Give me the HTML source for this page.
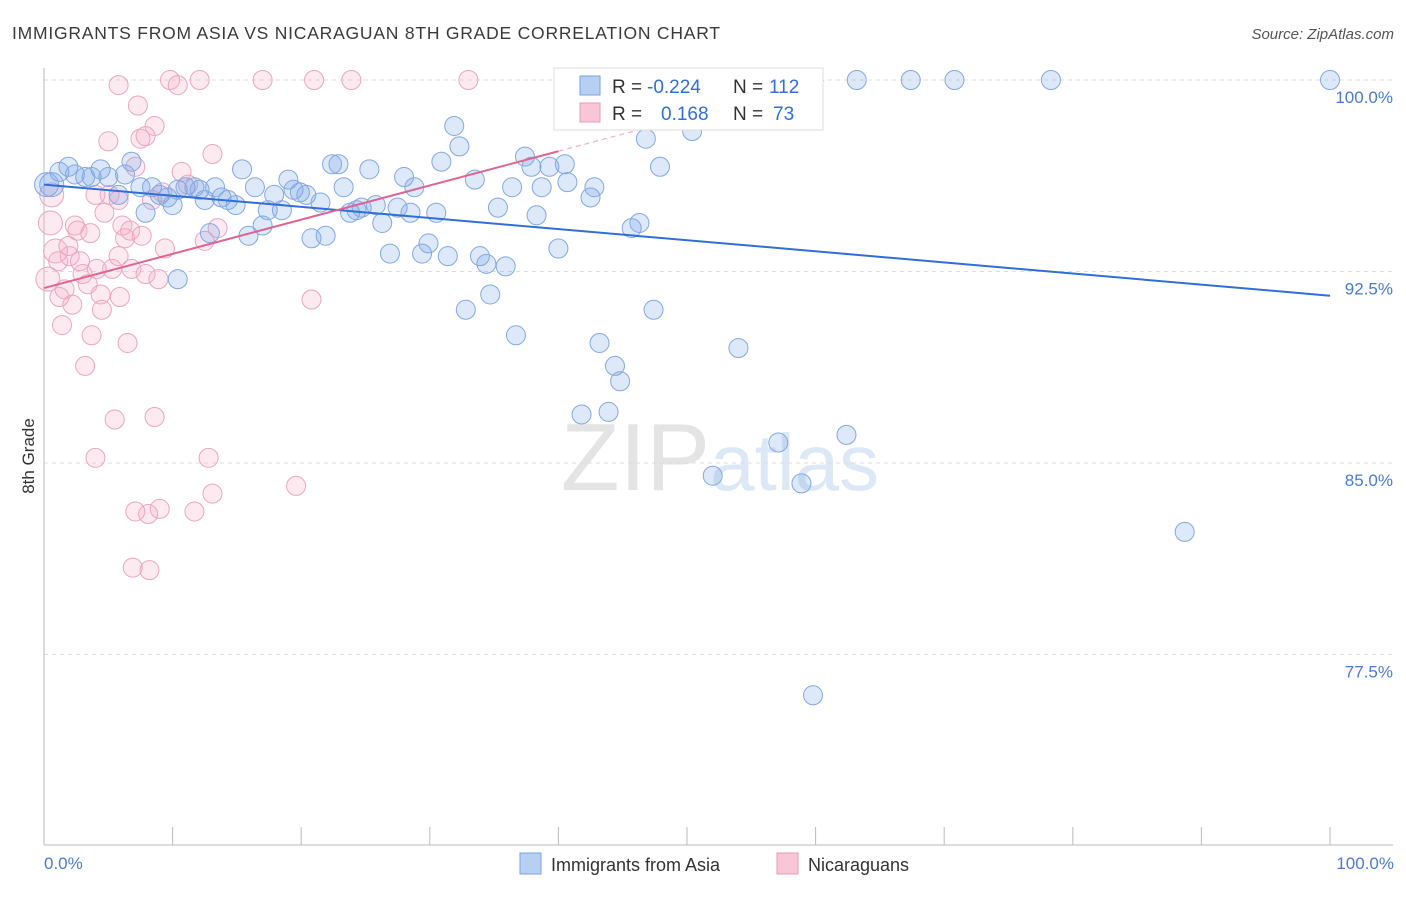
<!DOCTYPE html>
<html><head><meta charset="utf-8"><style>
body{margin:0;background:#fff;font-family:"Liberation Sans",sans-serif}
svg text{font-family:"Liberation Sans",sans-serif}
</style></head><body>
<svg id="chart" width="1406" height="892" xmlns="http://www.w3.org/2000/svg">
<text x="12" y="39" font-size="17.5" fill="#3a3a3a" textLength="708" lengthAdjust="spacing">IMMIGRANTS FROM ASIA VS NICARAGUAN 8TH GRADE CORRELATION CHART</text>
<text x="1394" y="39" font-size="15" fill="#555" text-anchor="end" font-style="italic">Source: ZipAtlas.com</text>
<text x="720" y="490" font-size="96" text-anchor="middle" fill="#e4e4e4" font-family="Liberation Serif">ZIP<tspan fill="#dde8f6" font-family="Liberation Sans" font-size="80">atlas</tspan></text>
<g id="grid"></g><g id="axes"></g><g id="pink"></g><g id="blue"></g><g id="lines"></g>
<text transform="translate(34,456) rotate(-90)" font-size="17" fill="#333" text-anchor="middle">8th Grade</text>
<text x="44" y="869" font-size="17" fill="#4a7bd0">0.0%</text>
<text x="1394" y="869" font-size="17" fill="#4a7bd0" text-anchor="end">100.0%</text>
<g>
<rect x="554" y="68" width="269" height="62" fill="#fff" stroke="#ddd"/>
<rect x="580" y="76" width="20" height="19" fill="#b7d0f2" stroke="#7aa3e0"/>
<rect x="580" y="103" width="20" height="19" fill="#f8c6d6" stroke="#e89ab5"/>
<text x="612" y="93" font-size="19" fill="#333">R =</text>
<text x="647" y="93" font-size="19" fill="#2f6fd6">-0.224</text>
<text x="733" y="93" font-size="19" fill="#333">N =</text>
<text x="769" y="93" font-size="19" fill="#2f6fd6">112</text>
<text x="612" y="120" font-size="19" fill="#333">R =</text>
<text x="661" y="120" font-size="19" fill="#2f6fd6">0.168</text>
<text x="733" y="120" font-size="19" fill="#333">N =</text>
<text x="773" y="120" font-size="19" fill="#2f6fd6">73</text>
</g>
<g>
<rect x="520" y="853" width="21" height="21" fill="#b7d0f2" stroke="#7aa3e0"/>
<text x="551" y="871" font-size="18" fill="#333">Immigrants from Asia</text>
<rect x="777" y="853" width="21" height="21" fill="#f8c6d6" stroke="#e89ab5"/>
<text x="808" y="871" font-size="18" fill="#333">Nicaraguans</text>
</g>
</svg>
<script>
const yTicks=[100,92.5,85,77.5];
const yTickLabels=["100.0%","92.5%","85.0%","77.5%"];
const xTicks=[0,10,20,30,40,50,60,70,80,90,100];
const blueX=[0.6,1.2,1.9,2.4,3.2,3.7,4.4,5.0,5.8,6.3,6.8,7.5,7.9,8.4,9.0,9.6,10.0,10.4,11.0,11.7,12.1,12.5,12.9,13.3,13.8,14.3,14.9,15.4,15.9,16.4,17.0,17.4,17.9,18.5,19.0,19.4,19.9,20.4,20.8,21.5,21.9,22.4,22.9,23.3,23.8,24.3,24.7,25.3,25.8,26.3,26.9,27.5,28.0,28.5,28.8,29.4,29.9,30.5,30.9,31.4,31.9,32.3,32.8,33.5,33.9,34.4,34.7,35.3,35.9,36.4,36.7,37.4,37.9,38.3,38.7,39.3,40.0,40.5,40.7,41.8,42.5,42.8,43.2,43.9,44.4,44.8,45.4,45.7,46.3,46.8,47.4,47.9,50.4,52.0,53.2,54.0,54.5,57.1,58.9,59.8,62.4,63.2,67.4,70.8,78.3,88.7,100,0.2,10.4];
const blueY=[95.9,96.4,96.6,96.3,96.2,96.2,96.5,96.2,95.5,96.3,96.8,95.8,94.8,95.8,95.5,95.4,95.1,95.7,95.8,95.8,95.7,95.3,94.0,95.8,95.4,95.3,95.1,96.5,93.9,95.8,94.3,94.9,95.5,94.9,96.1,95.7,95.6,95.5,93.8,95.2,93.9,96.7,96.7,95.8,94.8,94.9,95.0,96.5,95.1,94.4,93.2,95.0,96.2,94.8,95.8,93.2,93.6,94.8,96.8,93.1,98.2,97.4,91.0,96.1,93.1,92.8,91.6,95.0,92.7,95.8,90.0,97.0,96.6,94.7,95.8,96.6,93.4,96.7,96.0,86.9,95.4,95.8,89.7,87.0,88.8,88.2,98.9,94.2,94.4,97.7,91.0,96.6,98.0,84.5,100,89.5,99.9,85.8,84.2,75.9,86.1,100,100,100,100,82.3,100,95.9,92.2];
const pinkX=[0.5,0.6,0.9,1.1,1.2,1.4,1.6,1.9,2.0,2.2,2.4,2.6,2.8,3.0,3.2,3.4,3.6,3.7,4.0,4.1,4.4,4.5,4.7,5.0,5.1,5.3,5.5,5.8,5.9,6.1,6.3,6.5,6.7,6.8,7.1,7.3,7.5,7.6,7.9,8.1,8.2,8.4,8.6,8.9,9.0,9.2,9.4,9.8,10.4,10.7,11.2,11.7,12.1,12.5,12.8,13.1,13.5,17.0,19.6,20.8,21.0,23.9,33.0,5.8,8.6,7.9,6.9,7.1,13.1,5.8,4.0,0.3];
const pinkY=[94.4,95.5,93.3,92.9,91.5,90.4,91.8,93.5,93.1,91.2,94.3,94.1,92.9,92.4,88.8,92.0,94.0,90.0,85.2,92.6,91.6,91.0,94.8,97.6,95.5,92.6,86.7,93.1,91.5,94.3,93.8,89.7,94.1,92.6,96.6,99.0,97.7,93.9,92.4,83.0,80.8,95.3,86.8,92.2,83.2,95.6,93.4,100,99.8,96.4,95.9,83.1,100,93.7,85.2,83.8,94.2,100,84.1,91.4,100,100,100,99.8,98.2,97.8,80.9,83.1,97.1,95.3,95.5,92.2];
const blueTrend=[95.9,-0.0435];
const pinkTrend=[91.85,0.134];
const X0=44,X1=1330,YTOP=100,PY0=80,PPER=25.53;
const sx=v=>X0+(X1-X0)*v/100;
const sy=v=>PY0+(YTOP-v)*PPER;
const NS="http://www.w3.org/2000/svg";
function mk(parent,tag,attrs){const e=document.createElementNS(NS,tag);for(const k in attrs)e.setAttribute(k,attrs[k]);parent.appendChild(e);return e;}
const grid=document.getElementById('grid'),axes=document.getElementById('axes');
yTicks.forEach((t,i)=>{
 const l=mk(grid,'line',{x1:44,x2:1393,y1:sy(t),y2:sy(t),stroke:'#dcdcdc','stroke-dasharray':'4,4'});
 
 
 const tx=mk(grid,'text',{x:1393,y:sy(t)+23,'font-size':17,fill:'#4a7bd0','text-anchor':'end'});
 tx.textContent=yTickLabels[i];
 
 
});
const ya=mk(axes,'line',{x1:44,x2:44,y1:68,y2:845,stroke:'#bbb'});


const xa=mk(axes,'line',{x1:44,x2:1393,y1:845,y2:845,stroke:'#bbb'});


xTicks.forEach(t=>{
 const l=mk(axes,'line',{x1:sx(t),x2:sx(t),y1:827,y2:845,stroke:'#bbb'});
 
 
});
function dots(g,xs,ys,fill,stroke,name){
 xs.forEach((x,i)=>{
  const r=(x<1)?12:9.5;
  const c=mk(g,'circle',{cx:sx(x),cy:sy(ys[i]),r:r,fill:fill,stroke:stroke,'stroke-width':1});
  
  
 });
}
dots(document.getElementById('pink'),pinkX,pinkY,'rgba(246,172,198,0.25)','#eca5bf','nicaraguans-point');
dots(document.getElementById('blue'),blueX,blueY,'rgba(120,165,232,0.25)','#82a9e2','asia-point');
const lines=document.getElementById('lines');
const bl=mk(lines,'line',{x1:sx(0),y1:sy(blueTrend[0]),x2:sx(100),y2:sy(blueTrend[0]+blueTrend[1]*100),stroke:'#2f6fd6','stroke-width':2});


const pl=mk(lines,'line',{x1:sx(0),y1:sy(pinkTrend[0]),x2:sx(40),y2:sy(pinkTrend[0]+pinkTrend[1]*40),stroke:'#e0648f','stroke-width':2});


const xe=(100-pinkTrend[0])/pinkTrend[1];
const pd=mk(lines,'line',{x1:sx(40),y1:sy(pinkTrend[0]+pinkTrend[1]*40),x2:sx(xe),y2:sy(100),stroke:'#f0b0c6','stroke-width':1.2,'stroke-dasharray':'5,4'});


</script>
</body></html>
